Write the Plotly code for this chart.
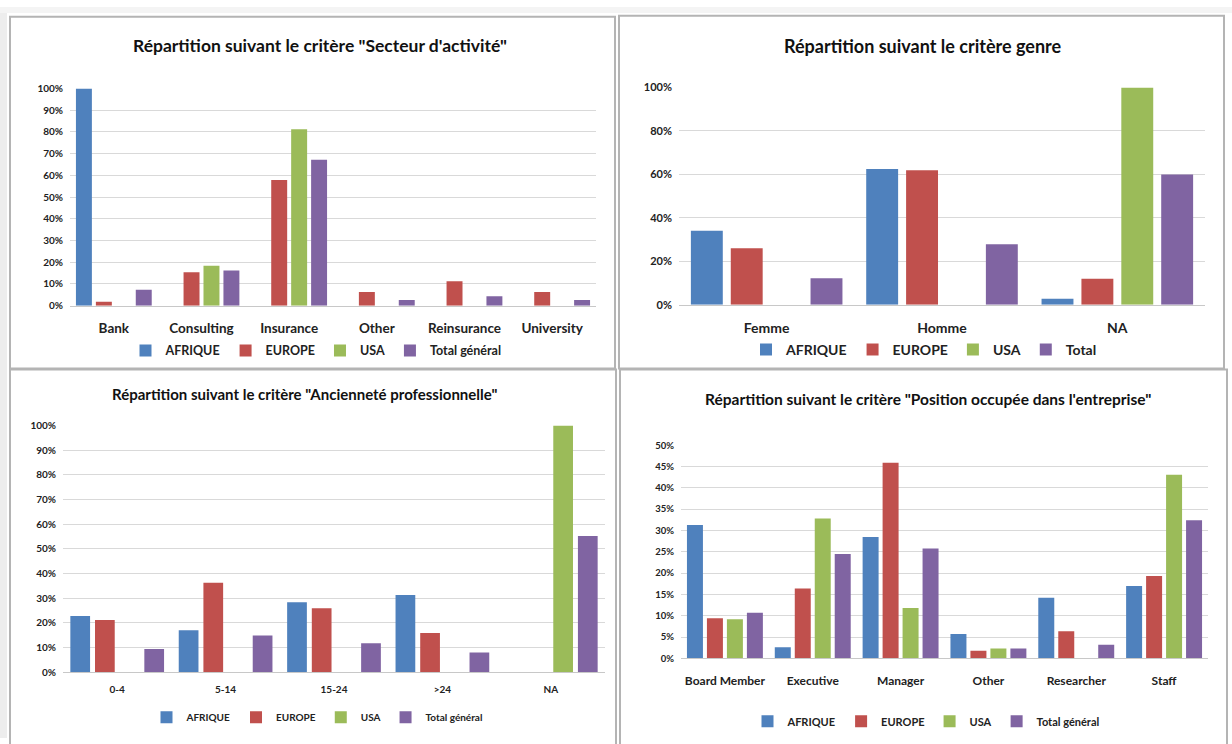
import plotly.graph_objects as go

W, H = 1232, 744

series_names = ["AFRIQUE", "EUROPE", "USA"]
colors = ["#4F81BD", "#C0504D", "#9BBB59", "#8064A2"]

# Panel 1: Secteur d'activité
sect_cats = ["Bank", "Consulting", "Insurance", "Other", "Reinsurance", "University"]
sect_afrique = [1.00, 0, 0, 0, 0, 0]
sect_europe = [0.018, 0.154, 0.579, 0.063, 0.113, 0.063]
sect_usa = [0, 0.184, 0.813, 0, 0, 0]
sect_total = [0.073, 0.162, 0.672, 0.026, 0.044, 0.026]

# Panel 2: genre
genre_cats = ["Femme", "Homme", "NA"]
genre_afrique = [0.341, 0.625, 0.027]
genre_europe = [0.260, 0.619, 0.119]
genre_usa = [0, 0, 1.00]
genre_total = [0.122, 0.278, 0.600]

# Panel 3: Ancienneté professionnelle
anc_cats = ["0-4", "5-14", "15-24", ">24", "NA"]
anc_afrique = [0.228, 0.170, 0.284, 0.313, 0]
anc_europe = [0.212, 0.363, 0.259, 0.159, 0]
anc_usa = [0, 0, 0, 0, 1.00]
anc_total = [0.094, 0.149, 0.117, 0.080, 0.552]

# Panel 4: Position occupée dans l'entreprise
pos_cats = ["Board Member", "Executive", "Manager", "Other", "Researcher", "Staff"]
pos_afrique = [0.313, 0.026, 0.285, 0.057, 0.142, 0.170]
pos_europe = [0.094, 0.164, 0.459, 0.018, 0.064, 0.193]
pos_usa = [0.092, 0.328, 0.118, 0.023, 0, 0.431]
pos_total = [0.107, 0.245, 0.258, 0.023, 0.032, 0.324]

panels = [
    dict(cats=sect_cats, data=[sect_afrique, sect_europe, sect_usa, sect_total],
         total="Total général",
         title='Répartition suivant le critère "Secteur d\'activité"',
         px=(70, 596), py=(83, 304), ymax=1.0, dtick=0.1,
         title_pos=(320, 39), title_size=17.5,
         leg_pos=(316, 350), leg_size=12.5, ytick=10, xtick=13.5, border=(10, 10, 615, 368),
         standoff=10),
    dict(cats=genre_cats, data=[genre_afrique, genre_europe, genre_usa, genre_total],
         total="Total",
         title="Répartition suivant le critère genre",
         px=(679, 1205), py=(82, 303), ymax=1.0, dtick=0.2,
         title_pos=(922, 40), title_size=18,
         leg_pos=(924, 349), leg_size=14, ytick=11, xtick=14, border=(619, 9, 1224, 368),
         standoff=10),
    dict(cats=anc_cats, data=[anc_afrique, anc_europe, anc_usa, anc_total],
         total="Total général",
         title='Répartition suivant le critère "Ancienneté professionnelle"',
         px=(63, 605), py=(426, 677), ymax=1.0, dtick=0.1,
         title_pos=(304, 394), title_size=15,
         leg_pos=(317, 723), leg_size=10, ytick=10, xtick=10, border=(10, 369, 616, 760),
         standoff=8),
    dict(cats=pos_cats, data=[pos_afrique, pos_europe, pos_usa, pos_total],
         total="Total général",
         title='Répartition suivant le critère "Position occupée dans l\'entreprise"',
         px=(681, 1208), py=(446, 663), ymax=0.5, dtick=0.05,
         title_pos=(928, 399), title_size=15.5,
         leg_pos=(926, 727), leg_size=11, ytick=9.5, xtick=12, border=(620, 369, 1227, 760),
         standoff=11),
]

FONT = "Lato"
fig = go.Figure()
layout = dict(
    width=W, height=H,
    margin=dict(l=0, r=0, t=0, b=0),
    paper_bgcolor="white", plot_bgcolor="white",
    barmode="group", bargap=0.09, bargroupgap=0.2,
    font=dict(family=FONT, color="#222222"),
    showlegend=True,
)
shapes = []
annotations = []

def fx(p):
    return p / W

def fy(p):
    return 1 - p / H

for i, p in enumerate(panels):
    n = i + 1
    xa = "x" if n == 1 else f"x{n}"
    ya = "y" if n == 1 else f"y{n}"
    leg = "legend" if n == 1 else f"legend{n}"
    names = series_names + [p["total"]]
    for name, vals, col in zip(names, p["data"], colors):
        fig.add_trace(go.Bar(x=p["cats"], y=vals, name=name, marker=dict(color=col, line=dict(width=0)),
                             xaxis=xa, yaxis=ya, legend=leg, offsetgroup=name))
    layout["xaxis" if n == 1 else f"xaxis{n}"] = dict(
        domain=[fx(p["px"][0]), fx(p["px"][1])], anchor=ya,
        showgrid=False, showline=True, linecolor="#c8c8c8", linewidth=1,
        ticks="", tickfont=dict(family=FONT, size=p["xtick"], color="#222222", weight="bold"),
        ticklabelstandoff=p["standoff"], fixedrange=True,
    )
    layout["yaxis" if n == 1 else f"yaxis{n}"] = dict(
        domain=[fy(p["py"][1]), fy(p["py"][0])], anchor=xa,
        range=[0, p["ymax"]], dtick=p["dtick"], tickformat=".0%",
        showgrid=True, gridcolor="#d9d9d9", gridwidth=1, zeroline=False,
        ticks="", tickfont=dict(family=FONT, size=p["ytick"], color="#222222", weight="bold"),
        ticklabelstandoff=6, fixedrange=True,
    )
    layout[leg] = dict(
        orientation="h", x=fx(p["leg_pos"][0]), y=fy(p["leg_pos"][1]),
        xanchor="center", yanchor="middle", xref="paper", yref="paper",
        font=dict(family=FONT, size=p["leg_size"], color="#222222", weight="bold"),
        itemwidth=30, bgcolor="rgba(0,0,0,0)", tracegroupgap=0, itemclick=False,
    )
    annotations.append(dict(
        text=f"<b>{p['title']}</b>", x=fx(p["title_pos"][0]), y=fy(p["title_pos"][1]),
        xref="paper", yref="paper", xanchor="center", yanchor="middle", showarrow=False,
        font=dict(family=FONT, size=p["title_size"], color="#111111"),
    ))
    b = p["border"]
    shapes.append(dict(type="rect", xref="paper", yref="paper",
                       x0=fx(b[0]), x1=fx(b[2]), y0=fy(b[3]), y1=fy(b[1]),
                       line=dict(color="#b4b4b4", width=2), fillcolor="rgba(0,0,0,0)", layer="below"))

# light grey frame strips at left and top edges
shapes.append(dict(type="rect", xref="paper", yref="paper", x0=0, x1=fx(7), y0=0, y1=1,
                   line=dict(width=0), fillcolor="#ededed", layer="below"))
shapes.append(dict(type="rect", xref="paper", yref="paper", x0=0, x1=1, y0=fy(6), y1=1,
                   line=dict(width=0), fillcolor="#f4f4f4", layer="below"))

layout["shapes"] = shapes
layout["annotations"] = annotations
fig.update_layout(**layout)
fig.write_html(
    "out.html",
    config={"displayModeBar": False},
    post_script="document.body.style.margin='0';document.body.style.overflow='hidden';",
)
